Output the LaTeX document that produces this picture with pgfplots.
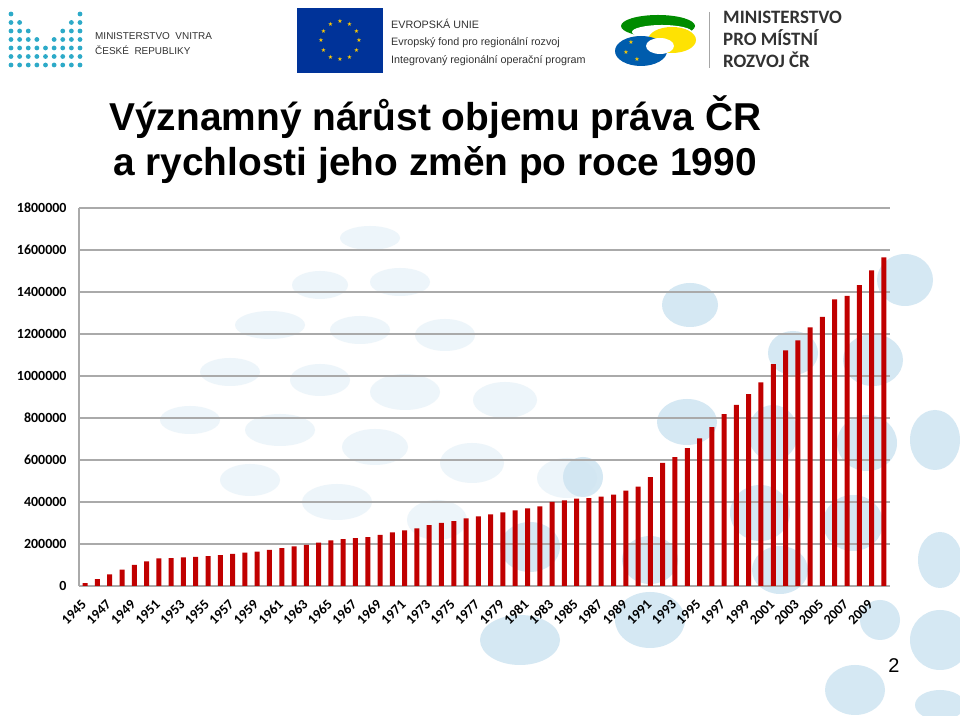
\documentclass[border=0pt]{standalone}
\usepackage{fontspec}
\setmainfont{Liberation Sans}
\newfontfamily\carlito{Carlito}
\newfontfamily\dejavu{DejaVu Sans}
\usepackage{pgfplots}
\pgfplotsset{compat=1.18}
\definecolor{barred}{RGB}{192,0,0}
\definecolor{gridgray}{RGB}{170,170,170}
\definecolor{blob}{RGB}{206,228,241}
\definecolor{eublue}{RGB}{0,51,153}
\definecolor{euyellow}{RGB}{255,204,0}
\definecolor{mvdot}{RGB}{45,170,200}
\definecolor{txtgray}{RGB}{50,50,50}
\begin{document}
\begin{tikzpicture}[x=1bp,y=1bp]
\useasboundingbox (0,0) rectangle (960,716);
\fill[white] (0,0) rectangle (960,716);
% background blobs (faint)
\foreach \cx/\cy/\rx/\ry in {370/238/30/12, 320/285/28/14, 400/282/30/14, 270/325/35/14, 360/330/30/14, 445/335/30/16, 230/372/30/14, 320/380/30/16, 405/392/35/18, 505/400/32/18, 190/420/30/14, 280/430/35/16, 375/447/33/18, 472/463/32/20, 567/478/30/20, 337/502/35/18, 437/520/30/20, 250/480/30/16}
  \fill[blob, opacity=0.35] (\cx,716-\cy) ellipse [x radius=\rx, y radius=\ry];
% background blobs (stronger)
\foreach \cx/\cy/\rx/\ry in {690/305/28/22, 793/353/25/22, 905/280/28/26, 873/360/30/26, 687/422/30/23, 773/433/25/28, 867/443/30/28, 935/440/25/30, 760/513/30/28, 853/523/30/28, 940/560/22/28, 583/477/20/20, 530/547/30/25, 650/560/28/24, 780/570/28/24, 940/640/30/30, 855/690/30/25, 940/705/25/15, 520/640/40/25, 650/620/35/28, 880/620/20/20}
  \fill[blob, opacity=0.85] (\cx,716-\cy) ellipse [x radius=\rx, y radius=\ry];
% MV logo dots
\foreach \k/\h in {0/7,1/6,2/5,3/4,4/3,5/4,6/5,7/6,8/7}{
  \pgfmathtruncatemacro{\rs}{7-\h}
  \foreach \r in {\rs,...,6}
    \fill[mvdot] ({11+8.625*\k},{716-(14+8.5*\r)}) circle (2.4);
}
\node[anchor=base west, inner sep=0, text=txtgray, font=\fontsize{10}{10}\selectfont] at (95,676.5) {MINISTERSTVO\ \ VNITRA};
\node[anchor=base west, inner sep=0, text=txtgray, font=\fontsize{10}{10}\selectfont] at (95,661) {ČESKÉ\ \ REPUBLIKY};
% EU flag
\fill[eublue] (297,643) rectangle (383,708);
\foreach \a in {0,30,...,330}
  \node[text=euyellow, inner sep=0, font=\dejavu\fontsize{6}{6}\selectfont] at ({340+19*cos(\a)},{675.5+19*sin(\a)}) {★};
\node[anchor=base west, inner sep=0, text=txtgray, font=\fontsize{10.8}{10.8}\selectfont] at (391,687.5) {EVROPSKÁ UNIE};
\node[anchor=base west, inner sep=0, text=txtgray, font=\fontsize{10.8}{10.8}\selectfont] at (391,670) {Evropský fond pro regionální rozvoj};
\node[anchor=base west, inner sep=0, text=txtgray, font=\fontsize{10.8}{10.8}\selectfont] at (391,652) {Integrovaný regionální operační program};
% MMR logo (approximation)
\fill[green!55!black] (658,690) ellipse [x radius=37, y radius=11];
\fill[white] (662,684) ellipse [x radius=30, y radius=7];
\fill[yellow!85!orange] (672,676) ellipse [x radius=24, y radius=13];
\fill[eublue!80!cyan] (641,665) ellipse [x radius=26, y radius=15];
\fill[white] (660,670) ellipse [x radius=14, y radius=8];
\foreach \sx/\sy in {631/674, 626/664, 637/657}
  \node[text=euyellow, inner sep=0, font=\dejavu\fontsize{6}{6}\selectfont] at (\sx,\sy) {★};
\draw[gray!70, line width=1] (709,704) -- (709,648);
\node[anchor=base west, inner sep=0, text=txtgray, font=\carlito\bfseries\fontsize{19}{19}\selectfont] at (723,692) {MINISTERSTVO};
\node[anchor=base west, inner sep=0, text=txtgray, font=\carlito\bfseries\fontsize{19}{19}\selectfont] at (723,670) {PRO MÍSTNÍ};
\node[anchor=base west, inner sep=0, text=txtgray, font=\carlito\bfseries\fontsize{19}{19}\selectfont] at (723,648) {ROZVOJ ČR};
% title
\node[anchor=base, inner sep=0, font=\bfseries\fontsize{39}{39}\selectfont] at (435.5,585) {Významný nárůst objemu práva ČR};
\node[anchor=base, inner sep=0, font=\bfseries\fontsize{39}{39}\selectfont] at (435,540) {a rychlosti jeho změn po roce 1990};
% page number
\node[anchor=base, inner sep=0, font=\fontsize{20}{20}\selectfont] at (894,43) {2};
\begin{axis}[
  at={(79bp,130bp)}, anchor=south west,
  scale only axis, width=811bp, height=378bp,
  xmin=1944.5, xmax=2010.5, ymin=0, ymax=1800000,
  axis x line*=bottom, axis y line*=left,
  axis line style={gridgray, line width=1.2bp},
  ybar, bar width=5bp,
  ytick={0,200000,400000,600000,800000,1000000,1200000,1400000,1600000,1800000},
  yticklabels={0,200000,400000,600000,800000,1000000,1200000,1400000,1600000,1800000},
  scaled y ticks=false,
  xtick={1945,1947,...,2009},
  xticklabels={1945,1947,1949,1951,1953,1955,1957,1959,1961,1963,1965,1967,1969,1971,1973,1975,1977,1979,1981,1983,1985,1987,1989,1991,1993,1995,1997,1999,2001,2003,2005,2007,2009},
  major tick length=0,
  ymajorgrids, major grid style={gridgray, line width=1.2bp},
  yticklabel style={font=\carlito\bfseries\fontsize{14}{14}\selectfont, xshift=-9bp},
  xticklabel style={font=\carlito\bfseries\fontsize{14}{14}\selectfont, inner sep=0pt, xshift=-1bp, yshift=-16bp, rotate=45, anchor=east},
  /pgf/number format/assume math mode=true,
  clip=false,
]
\addplot[fill=barred, draw=none] coordinates {
(1945,14000) (1946,33000) (1947,55000) (1948,78000) (1949,100000)
(1950,117000) (1951,131000) (1952,133000) (1953,136000) (1954,139000)
(1955,142000) (1956,147000) (1957,153000) (1958,159000) (1959,164000)
(1960,172000) (1961,180000) (1962,189000) (1963,196000) (1964,206000)
(1965,217000) (1966,223000) (1967,228000) (1968,233000) (1969,244000)
(1970,255000) (1971,265000) (1972,274000) (1973,290000) (1974,300000)
(1975,309000) (1976,322000) (1977,332000) (1978,341000) (1979,351000)
(1980,360000) (1981,370000) (1982,379000) (1983,400000) (1984,408000)
(1985,416000) (1986,419000) (1987,425000) (1988,435000) (1989,454000)
(1990,473000) (1991,519000) (1992,586000) (1993,614000) (1994,657000)
(1995,703000) (1996,756000) (1997,819000) (1998,863000) (1999,914000)
(2000,970000) (2001,1057000) (2002,1122000) (2003,1170000) (2004,1232000)
(2005,1281000) (2006,1365000) (2007,1381000) (2008,1433000) (2009,1503000)
(2010,1565000)
};
\end{axis}
\end{tikzpicture}
\end{document}
